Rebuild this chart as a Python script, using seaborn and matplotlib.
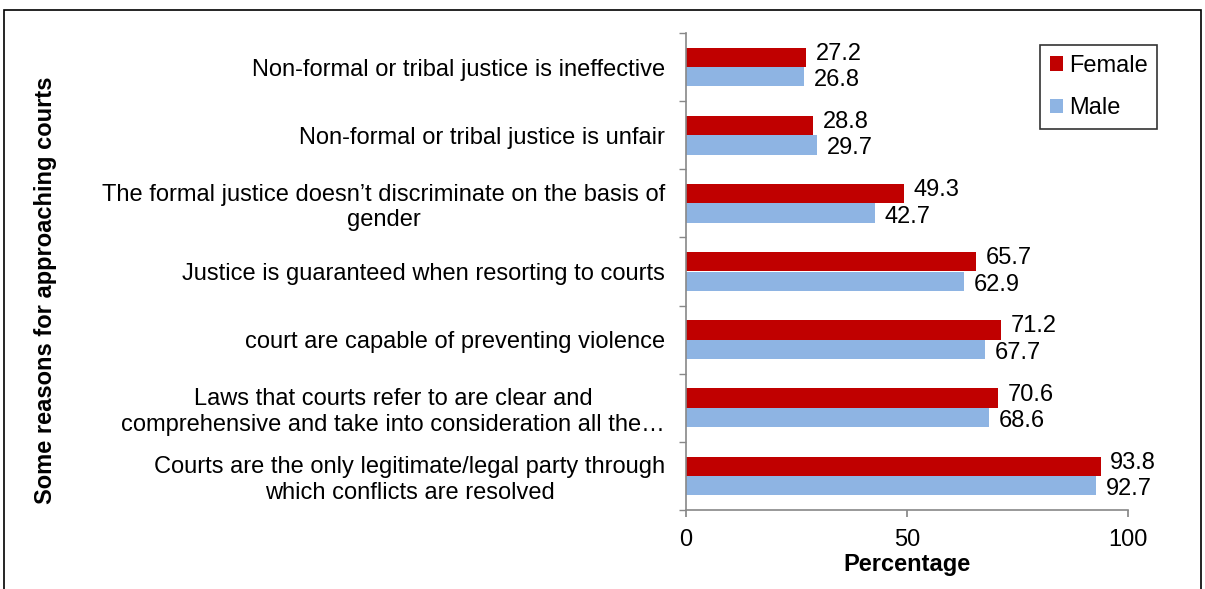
import matplotlib
matplotlib.use("Agg")
import matplotlib.pyplot as plt
import seaborn as sns
import pandas as pd
from matplotlib.patches import Rectangle

categories = [
    "Non-formal or tribal justice is ineffective",
    "Non-formal or tribal justice is unfair",
    "The formal justice doesn\u2019t discriminate on the basis of\ngender",
    "Justice is guaranteed when resorting to courts",
    "court are capable of preventing violence",
    "Laws that courts refer to are clear and\ncomprehensive and take into consideration all the\u2026",
    "Courts are the only legitimate/legal party through\nwhich conflicts are resolved",
]
female = [27.2, 28.8, 49.3, 65.7, 71.2, 70.6, 93.8]
male = [26.8, 29.7, 42.7, 62.9, 67.7, 68.6, 92.7]
series = ["Female", "Male"]
colors = ["#C00000", "#8EB4E3"]
xticks = [0, 50, 100]

df = pd.DataFrame({
    "category": categories * 2,
    "value": female + male,
    "gender": ["Female"] * len(categories) + ["Male"] * len(categories),
})

sns.set_theme(style="white")
plt.rcParams["font.family"] = ["Liberation Sans", "DejaVu Sans"]
plt.rcParams["text.color"] = "black"
plt.rcParams["xtick.color"] = "black"
plt.rcParams["ytick.color"] = "black"
plt.rcParams["axes.labelcolor"] = "black"

FS = 17

fig = plt.figure(figsize=(12.05, 5.89), dpi=100)
ax = fig.add_axes([686 / 1205, 1 - 510 / 589, (1128 - 686) / 1205, (510 - 33) / 589])

sns.barplot(data=df, y="category", x="value", hue="gender", order=categories,
            hue_order=series, palette=colors, orient="h", width=0.57,
            ax=ax, saturation=1, edgecolor="none")

# Female labels nudged slightly up, Male labels slightly down (as the reference staggers them)
vshift = [2.5, -2.5]
for cont, dy in zip(ax.containers, vshift):
    labels = [f"{v:.1f}" for v in cont.datavalues]
    anns = ax.bar_label(cont, labels=labels, padding=7, fontsize=FS, color="black")
    for a in anns:
        a.xyann = (7, dy)

ax.set_xlim(0, 100)
ax.set_ylim(len(categories) - 0.5, -0.5)
ax.set_xticks(xticks)
ax.set_xticklabels([str(t) for t in xticks], fontsize=FS)
ax.set_yticks(range(len(categories)))
ax.set_yticklabels(categories, fontsize=FS, linespacing=1.2, ha="right",
                   multialignment="center")
ax.tick_params(axis="y", length=0, pad=15)
ax.set_yticks([i - 0.5 for i in range(len(categories) + 1)], minor=True)
ax.tick_params(axis="y", which="minor", length=5, direction="out", color="#888888", left=True)
ax.tick_params(axis="x", length=5, direction="out", color="#888888", bottom=True, pad=9)
for s in ["top", "right"]:
    ax.spines[s].set_visible(False)
for s in ["left", "bottom"]:
    ax.spines[s].set_color("#888888")
    ax.spines[s].set_linewidth(1.2)

ax.set_xlabel("Percentage", fontsize=FS, fontweight="bold", labelpad=1)
ax.set_ylabel("")
fig.text(46 / 1205, 1 - 290 / 589, "Some reasons for approaching courts", rotation=90,
         fontsize=FS, fontweight="bold", ha="center", va="center")

leg = ax.legend(loc="upper left", bbox_to_anchor=((1040 - 686) / 442, 1 + (33 - 45) / 477),
                fontsize=FS, frameon=True, fancybox=False, edgecolor="black",
                handlelength=0.55, handleheight=0.55, handletextpad=0.25,
                labelspacing=0.85, borderpad=0.42, borderaxespad=0)
leg.get_frame().set_linewidth(1.2)

fig.patches.append(Rectangle((4 / 1205, -0.1), (1201 - 4) / 1205, 1.1 - 10 / 589,
                             transform=fig.transFigure, fill=False,
                             edgecolor="black", linewidth=1.2))

fig.savefig("out.png", dpi=100)
